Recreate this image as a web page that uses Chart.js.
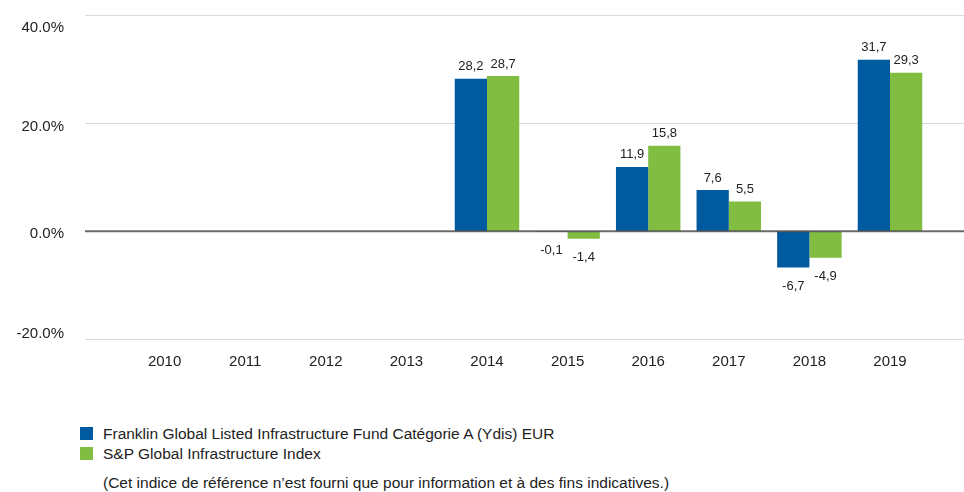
<!DOCTYPE html>
<html>
<head>
<meta charset="utf-8">
<script src="https://cdn.jsdelivr.net/npm/chart.js@4"></script>
<style>
  html, body { margin: 0; padding: 0; background: #fff; }
  body { width: 964px; height: 492px; position: relative; overflow: hidden; font-family: "Liberation Sans", Arial, sans-serif; color: #222; }
  #wrap { position: absolute; left: 0; top: 0; width: 964px; height: 380px; }
  .leg { position: absolute; left: 80px; font-size: 15.5px; line-height: 18px; white-space: nowrap; }
  .sw { position: absolute; left: 0; top: 2px; width: 13px; height: 13px; }
  .lt { position: absolute; left: 23px; top: 0; }
  #note { position: absolute; left: 103px; top: 474px; font-size: 15.5px; line-height: 18px; white-space: nowrap; }
</style>
</head>
<body>
<div id="wrap"><canvas id="c"></canvas></div>
<div class="leg" style="top:425px"><div class="sw" style="background:#005a9f"></div><div class="lt">Franklin Global Listed Infrastructure Fund Catégorie A (Ydis) EUR</div></div>
<div class="leg" style="top:445px"><div class="sw" style="background:#80bd41"></div><div class="lt">S&amp;P Global Infrastructure Index</div></div>
<div id="note">(Cet indice de référence n’est fourni que pour information et à des fins indicatives.)</div>
<script>
const categories = ['2010','2011','2012','2013','2014','2015','2016','2017','2018','2019'];
const fundValues = [null, null, null, null, 28.2, -0.1, 11.9, 7.6, -6.7, 31.7];
const indexValues = [null, null, null, null, 28.7, -1.4, 15.8, 5.5, -4.9, 29.3];
const yTickValues = [-20, 0, 20, 40];
const seriesNames = ['Franklin Global Listed Infrastructure Fund Catégorie A (Ydis) EUR', 'S&P Global Infrastructure Index'];

const FONT = '"Liberation Sans", Arial, sans-serif';

const gridPlugin = {
  id: 'gridPlugin',
  beforeDatasetsDraw(chart) {
    const ctx = chart.ctx, y = chart.scales.y, area = chart.chartArea;
    ctx.save();
    yTickValues.forEach(v => {
      const py = Math.round(y.getPixelForValue(v)) + (v === 0 ? 0 : 0.5);
      if (v !== 0) {
        ctx.strokeStyle = '#d9d9d9';
        ctx.lineWidth = 1;
        ctx.beginPath(); ctx.moveTo(85, py); ctx.lineTo(964, py); ctx.stroke();
      }
      const ly = Math.min(Math.max(py + 3, area.top + 13), area.bottom - 5);
      ctx.fillStyle = '#222';
      ctx.font = '15px ' + FONT;
      ctx.textAlign = 'right';
      ctx.textBaseline = 'middle';
      ctx.fillText(v.toFixed(1) + '%', 64, ly);
    });
    ctx.restore();
  },
  afterDatasetsDraw(chart) {
    const ctx = chart.ctx, y = chart.scales.y;
    ctx.save();
    const py = y.getPixelForValue(0);
    ctx.strokeStyle = 'rgba(80,80,80,0.85)';
    ctx.lineWidth = 2;
    ctx.beginPath(); ctx.moveTo(85, py); ctx.lineTo(964, py); ctx.stroke();
    ctx.font = '13px ' + FONT;
    ctx.fillStyle = '#222';
    ctx.textAlign = 'center';
    ctx.textBaseline = 'middle';
    chart.data.datasets.forEach((ds, di) => {
      const meta = chart.getDatasetMeta(di);
      ds.data.forEach((v, i) => {
        if (v === null || v === undefined) return;
        const bar = meta.data[i];
        const txt = v.toFixed(1).replace('.', ',');
        const ty = v >= 0 ? bar.y - 12 : bar.y + 19;
        ctx.fillText(txt, bar.x, ty);
      });
    });
    ctx.restore();
  }
};

new Chart(document.getElementById('c'), {
  type: 'bar',
  data: {
    labels: categories,
    datasets: [
      { label: seriesNames[0], data: fundValues, backgroundColor: '#005a9f', borderWidth: 0 },
      { label: seriesNames[1], data: indexValues, backgroundColor: '#80bd41', borderWidth: 0 }
    ]
  },
  options: {
    responsive: true,
    maintainAspectRatio: false,
    animation: false,
    categoryPercentage: 0.8,
    barPercentage: 1.0,
    layout: { padding: { top: 15, left: 124.3, right: 33.7, bottom: 0 } },
    plugins: { legend: { display: false }, tooltip: { enabled: false } },
    scales: {
      x: {
        grid: { display: false, drawTicks: false },
        border: { display: false },
        ticks: { color: '#222', font: { family: FONT, size: 15 }, padding: 14, maxRotation: 0 },
        afterFit(scale) { scale.height = 40.7; }
      },
      y: {
        display: false,
        min: -20, max: 40,
        ticks: { stepSize: 20 }
      }
    }
  },
  plugins: [gridPlugin]
});
</script>
</body>
</html>
